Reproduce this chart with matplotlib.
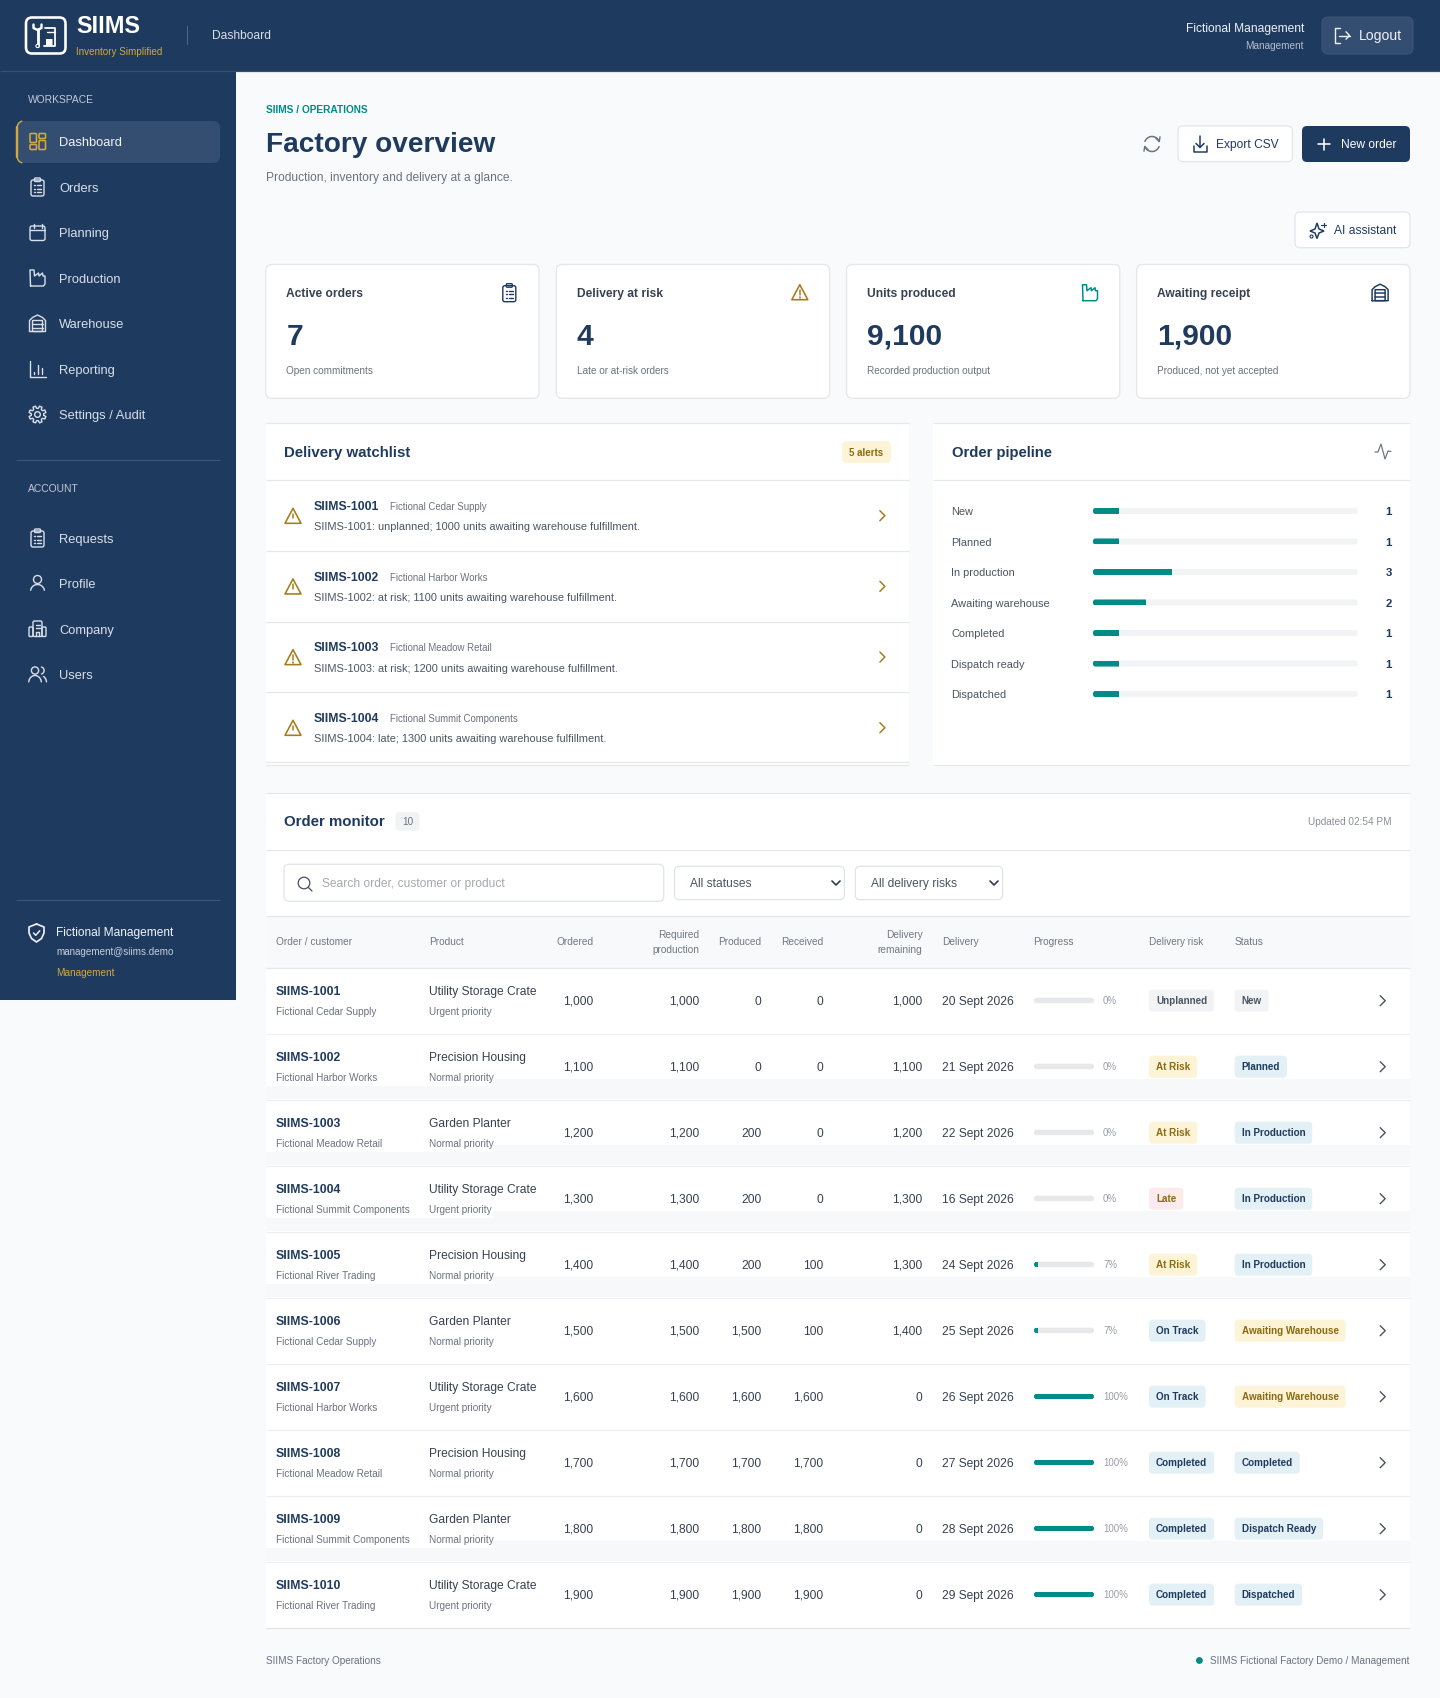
import math

import matplotlib
matplotlib.use('Agg')
import matplotlib.pyplot as plt
from matplotlib.patches import Circle, FancyBboxPatch, Polygon

W, H = 1440, 1698

NAVY = '#1f3a5f'
TEAL = '#008b87'
GOLD = '#d2a93c'
AMBER = '#a67c1a'
GREY = '#6b7280'
LINE = '#e5e7eb'
BG = '#f8fafc'

WORKSPACE_NAV = ['Dashboard', 'Orders', 'Planning', 'Production', 'Warehouse', 'Reporting', 'Settings / Audit']
ACCOUNT_NAV = ['Requests', 'Profile', 'Company', 'Users']

CARD_TITLES = ['Active orders', 'Delivery at risk', 'Units produced', 'Awaiting receipt']
CARD_VALUES = ['7', '4', '9,100', '1,900']
CARD_NOTES = ['Open commitments', 'Late or at-risk orders', 'Recorded production output', 'Produced, not yet accepted']

WATCH_IDS = ['SIIMS-1001', 'SIIMS-1002', 'SIIMS-1003', 'SIIMS-1004']
WATCH_CUSTOMERS = ['Fictional Cedar Supply', 'Fictional Harbor Works', 'Fictional Meadow Retail', 'Fictional Summit Components']
WATCH_MESSAGES = [
    'SIIMS-1001: unplanned; 1000 units awaiting warehouse fulfillment.',
    'SIIMS-1002: at risk; 1100 units awaiting warehouse fulfillment.',
    'SIIMS-1003: at risk; 1200 units awaiting warehouse fulfillment.',
    'SIIMS-1004: late; 1300 units awaiting warehouse fulfillment.',
]

PIPELINE_STAGES = ['New', 'Planned', 'In production', 'Awaiting warehouse', 'Completed', 'Dispatch ready', 'Dispatched']
PIPELINE_COUNTS = [1, 1, 3, 2, 1, 1, 1]
ORDER_TOTAL = 10

ORDER_IDS = ['SIIMS-1001', 'SIIMS-1002', 'SIIMS-1003', 'SIIMS-1004', 'SIIMS-1005',
             'SIIMS-1006', 'SIIMS-1007', 'SIIMS-1008', 'SIIMS-1009', 'SIIMS-1010']
CUSTOMERS = ['Fictional Cedar Supply', 'Fictional Harbor Works', 'Fictional Meadow Retail',
             'Fictional Summit Components', 'Fictional River Trading', 'Fictional Cedar Supply',
             'Fictional Harbor Works', 'Fictional Meadow Retail', 'Fictional Summit Components',
             'Fictional River Trading']
PRODUCTS = ['Utility Storage Crate', 'Precision Housing', 'Garden Planter', 'Utility Storage Crate',
            'Precision Housing', 'Garden Planter', 'Utility Storage Crate', 'Precision Housing',
            'Garden Planter', 'Utility Storage Crate']
PRIORITIES = ['Urgent priority', 'Normal priority', 'Normal priority', 'Urgent priority', 'Normal priority',
              'Normal priority', 'Urgent priority', 'Normal priority', 'Normal priority', 'Urgent priority']
ORDERED = [1000, 1100, 1200, 1300, 1400, 1500, 1600, 1700, 1800, 1900]
REQUIRED = [1000, 1100, 1200, 1300, 1400, 1500, 1600, 1700, 1800, 1900]
PRODUCED = [0, 0, 200, 200, 200, 1500, 1600, 1700, 1800, 1900]
RECEIVED = [0, 0, 0, 0, 100, 100, 1600, 1700, 1800, 1900]
REMAINING = [1000, 1100, 1200, 1300, 1300, 1400, 0, 0, 0, 0]
DELIVERY = ['20 Sept 2026', '21 Sept 2026', '22 Sept 2026', '16 Sept 2026', '24 Sept 2026',
            '25 Sept 2026', '26 Sept 2026', '27 Sept 2026', '28 Sept 2026', '29 Sept 2026']
PROGRESS = [0, 0, 0, 0, 7, 7, 100, 100, 100, 100]
RISKS = ['Unplanned', 'At Risk', 'At Risk', 'Late', 'At Risk', 'On Track', 'On Track',
         'Completed', 'Completed', 'Completed']
STATUSES = ['New', 'Planned', 'In Production', 'In Production', 'In Production', 'Awaiting Warehouse',
            'Awaiting Warehouse', 'Completed', 'Dispatch Ready', 'Dispatched']

BADGE_GREY = ('#f1f3f5', '#4b5563')
BADGE_GOLD = ('#fdf3d6', '#8a6a12')
BADGE_BLUE = ('#e3f1f6', NAVY)
BADGE_RED = ('#fdeaec', '#8a6a12')
BADGE_STYLE = {
    'Unplanned': BADGE_GREY, 'New': BADGE_GREY,
    'At Risk': BADGE_GOLD, 'Awaiting Warehouse': BADGE_GOLD,
    'Late': BADGE_RED,
}

plt.rcParams['font.family'] = ['Liberation Sans', 'DejaVu Sans']

fig = plt.figure(figsize=(W / 100, H / 100), dpi=100, facecolor=BG)
ax = fig.add_axes([0, 0, 1, 1])
ax.set_xlim(0, W)
ax.set_ylim(H, 0)
ax.axis('off')


def txt(x, y, s, px, color='#374151', weight='normal', ha='left'):
    return ax.text(x, y, s, fontsize=px * 0.72, color=color, fontweight=weight, ha=ha, va='baseline', zorder=6)


def ctxt(x, cy, s, px, color='#374151', weight='normal', ha='left'):
    # cy is the optical middle of the line
    return txt(x, cy + 0.36 * px, s, px, color, weight, ha)


def box(x0, y0, x1, y1, r=0, fc='white', ec='none', lw=1, z=2):
    p = FancyBboxPatch((x0 + r, y0 + r), x1 - x0 - 2 * r, y1 - y0 - 2 * r,
                       boxstyle='round,pad=%f,rounding_size=%f' % (r, r),
                       fc=fc, ec=ec, lw=lw * 0.72, zorder=z)
    ax.add_patch(p)
    return p


def rect(x0, y0, x1, y1, fc, z=1):
    ax.fill([x0, x1, x1, x0], [y0, y0, y1, y1], color=fc, lw=0, zorder=z)


def hline(y, x0, x1, color=LINE, lw=1.2, z=3):
    ax.plot([x0, x1], [y, y], color=color, lw=lw * 0.72, zorder=z, solid_capstyle='butt')


def stroke(pts, color, lw=1.4, z=5):
    ax.plot([p[0] for p in pts], [p[1] for p in pts], color=color, lw=lw * 0.72, zorder=z,
            solid_capstyle='round', solid_joinstyle='round')


def ring(cx, cy, r, color, lw=1.4, fc='none', z=5):
    ax.add_patch(Circle((cx, cy), r, fc=fc, ec=color, lw=lw * 0.72, zorder=z))


def arc(cx, cy, rx, ry, a0, a1):
    return [(cx + rx * math.cos(math.radians(a0 + (a1 - a0) * i / 24)),
             cy - ry * math.sin(math.radians(a0 + (a1 - a0) * i / 24))) for i in range(25)]


def icon_dash(cx, cy, c):
    for x0, y0, x1, y1 in [(-7.5, -8, -1, 1), (1.5, -8, 8, -3), (-7.5, 3, -1, 8), (1.5, -1, 8, 8)]:
        box(cx + x0, cy + y0, cx + x1, cy + y1, 1, 'none', c, 1.6, 5)


def icon_clipboard(cx, cy, c, lw=1.4):
    box(cx - 6.5, cy - 7, cx + 6.5, cy + 9, 2, 'none', c, lw, 5)
    box(cx - 3, cy - 9, cx + 3, cy - 5.5, 1, 'none', c, lw, 5)
    for dy in (-2, 1.5, 5):
        stroke([(cx - 3.5, cy + dy), (cx - 2.5, cy + dy)], c, lw)
        stroke([(cx - 0.5, cy + dy), (cx + 3.5, cy + dy)], c, lw)


def icon_calendar(cx, cy, c):
    box(cx - 7.5, cy - 6.5, cx + 7.5, cy + 8, 2, 'none', c, 1.4, 5)
    stroke([(cx - 7.5, cy - 2.5), (cx + 7.5, cy - 2.5)], c)
    for dx in (-4, 4):
        stroke([(cx + dx, cy - 9), (cx + dx, cy - 5)], c)
    for dx in (-3, 0, 3):
        for dy in (1, 4):
            stroke([(cx + dx, cy + dy), (cx + dx + 0.4, cy + dy)], c, 1.2)


def icon_factory(cx, cy, c, lw=1.4):
    stroke([(cx - 7, cy + 8), (cx - 7.5, cy - 8), (cx - 3.5, cy - 8), (cx - 3, cy - 2), (cx + 1, cy - 5),
            (cx + 1.5, cy - 2), (cx + 5, cy - 5), (cx + 5.5, cy - 2), (cx + 7.5, cy - 2), (cx + 7.5, cy + 6),
            (cx + 6, cy + 8), (cx - 7, cy + 8)], c, lw)
    for dx in (-2.5, 0.5, 3.5):
        stroke([(cx + dx, cy + 4.5), (cx + dx + 0.4, cy + 4.5)], c, lw)


def icon_warehouse(cx, cy, c, lw=1.4):
    stroke([(cx - 8, cy + 8), (cx - 8, cy - 3), (cx - 5, cy - 6), (cx, cy - 8.5), (cx + 5, cy - 6),
            (cx + 8, cy - 3), (cx + 8, cy + 8), (cx - 8, cy + 8)], c, lw)
    box(cx - 5, cy - 3, cx + 5, cy + 8, 0.5, 'none', c, lw, 5)
    for dy in (0.5, 4):
        stroke([(cx - 5, cy + dy), (cx + 5, cy + dy)], c, lw)


def icon_chart(cx, cy, c):
    stroke([(cx - 7.5, cy - 8.5), (cx - 7.5, cy + 8), (cx + 8, cy + 8)], c)
    for dx, top in [(-3.5, 3), (0.5, -4), (4.5, -1)]:
        stroke([(cx + dx, cy + top), (cx + dx, cy + 5)], c)


def icon_gear(cx, cy, c):
    pts = []
    for i in range(8):
        a = math.radians(i * 45 + 22.5)
        for da, rr in [(-15, 6.2), (-9, 8.6), (9, 8.6), (15, 6.2)]:
            pts.append((cx + rr * math.cos(a + math.radians(da)), cy + rr * math.sin(a + math.radians(da))))
    stroke(pts + pts[:1], c)
    ring(cx, cy, 2.8, c)


def icon_person(cx, cy, c):
    ring(cx, cy - 4, 4, c)
    stroke(arc(cx, cy + 8, 7, 7, 170, 10), c)


def icon_building(cx, cy, c):
    box(cx - 4.5, cy - 8, cx + 4.5, cy + 7.5, 1.5, 'none', c, 1.4, 5)
    box(cx - 8.5, cy - 2, cx - 4.5, cy + 7.5, 1, 'none', c, 1.4, 5)
    box(cx + 4.5, cy - 2, cx + 8.5, cy + 7.5, 1, 'none', c, 1.4, 5)
    for dy in (-4.5, -1.5):
        stroke([(cx - 2, cy + dy), (cx + 2, cy + dy)], c)
    stroke([(cx - 1.5, cy + 7), (cx - 1.5, cy + 3), (cx + 1.5, cy + 3), (cx + 1.5, cy + 7)], c)


def icon_users(cx, cy, c):
    ring(cx - 2.5, cy - 4, 3.6, c)
    stroke(arc(cx - 2.5, cy + 8, 6.3, 7, 175, 5), c)
    stroke(arc(cx + 3, cy - 4, 3.6, 3.6, 75, -75), c)
    stroke(arc(cx + 3, cy + 8, 6, 7, 60, 5), c)


def icon_shield(cx, cy, c):
    stroke([(cx, cy - 9), (cx + 7.5, cy - 6), (cx + 7.5, cy), (cx + 5, cy + 5.5), (cx, cy + 9),
            (cx - 5, cy + 5.5), (cx - 7.5, cy), (cx - 7.5, cy - 6), (cx, cy - 9)], c, 1.7)
    stroke([(cx - 3, cy), (cx - 0.8, cy + 2.3), (cx + 3.2, cy - 2.2)], c, 1.5)


def icon_warning(cx, cy, c):
    ax.add_patch(Polygon([(cx, cy - 8), (cx + 8, cy + 7), (cx - 8, cy + 7)], closed=True, fc='none', ec=c,
                         lw=1.6 * 0.72, joinstyle='round', zorder=5))
    stroke([(cx, cy - 2.5), (cx, cy + 2)], c, 1.5)
    stroke([(cx, cy + 4.6), (cx, cy + 4.9)], c, 1.6)


def chevron(cx, cy, c, lw=1.4, s=5):
    stroke([(cx - s / 2, cy - s), (cx + s / 2, cy), (cx - s / 2, cy + s)], c, lw)


def draw_logo():
    box(26, 17.5, 65.5, 53.5, 6, 'none', 'white', 2.6, 5)
    # wrench on the left, shelf with crate on the right
    stroke([(37.5, 29), (37.5, 46)], 'white', 2.8)
    stroke([(33.5, 24.5), (33.5, 28), (37.5, 30), (41.5, 28), (41.5, 24.5)], 'white', 2.4)
    stroke([(45, 27.5), (54.5, 27.5), (54.5, 45.5), (44, 45.5)], 'white', 1.8)
    stroke([(47, 32), (54.5, 32)], 'white', 1.4)
    box(46, 39, 52.5, 45.5, 0.5, 'white', 'none', 1, 5)
    ring(37.5, 46, 1.6, 'white', 1.1, fc=NAVY, z=6)


def draw_shell():
    rect(0, 0, W, 71, NAVY)
    hline(71, 0, W, '#35507a', 1.2)
    rect(0, 71, 236, 1000, NAVY)

    draw_logo()
    txt(76, 33.3, 'SIIMS', 23.5, 'white', 'bold')
    txt(76, 55, 'Inventory Simplified', 9.9, GOLD)
    stroke([(187.3, 26), (187.3, 44)], '#4f6787', 1)
    ctxt(212, 34.5, 'Dashboard', 12, '#d8dfe9')

    txt(1304, 32, 'Fictional Management', 12.05, '#eef1f5', ha='right')
    txt(1304, 48.5, 'Management', 10, '#b4bfce', ha='right')
    box(1322, 17, 1413, 54, 6, '#344e72', '#3d5678', 1)
    c = '#eef1f5'
    stroke([(1340, 28), (1335, 28), (1335, 43), (1340, 43)], c, 1.4)
    stroke([(1339, 35.5), (1349.5, 35.5)], c, 1.4)
    stroke([(1346, 31.8), (1349.5, 35.5), (1346, 39.2)], c, 1.4)
    ctxt(1359, 35.2, 'Logout', 14, c)

    txt(27.5, 103, 'WORKSPACE', 10.2, '#c0c9d6')
    box(16.5, 121, 220, 163, 7, '#344e72')
    stroke([(17.2, 127), (17.2, 157)], GOLD, 2.4)
    stroke(arc(23.5, 127.5, 6.3, 6.5, 175, 105), GOLD, 1.4)
    stroke(arc(23.5, 156.5, 6.3, 6.5, 185, 255), GOLD, 1.4)

    nav_icons = [icon_dash, icon_clipboard, icon_calendar, icon_factory, icon_warehouse, icon_chart, icon_gear]
    for i, name in enumerate(WORKSPACE_NAV):
        cy = 141.5 + 45.5 * i
        c = GOLD if i == 0 else '#d8dfe9'
        nav_icons[i](37.5, cy, c)
        ctxt(59, cy, name, 12.95, '#f1f4f8' if i == 0 else '#d8dfe9')

    hline(460, 16, 220, '#3c5578', 1.1)
    txt(27.5, 492, 'ACCOUNT', 10.2, '#c0c9d6')
    acct_icons = [icon_clipboard, icon_person, icon_building, icon_users]
    for i, name in enumerate(ACCOUNT_NAV):
        cy = 538 + 45.5 * i
        acct_icons[i](37.5, cy, '#d8dfe9')
        ctxt(59, cy, name, 12.95, '#d8dfe9')

    hline(900, 16, 220, '#3c5578', 1.1)
    icon_shield(36.5, 933, '#eef1f5')
    ctxt(56, 931.7, 'Fictional Management', 11.95, '#f1f4f8')
    ctxt(56, 951.5, 'management@siims.demo', 9.9, '#c6cfdb')
    ctxt(56, 972.8, 'Management', 10, GOLD)


def draw_page_head():
    txt(266, 113.3, 'SIIMS / OPERATIONS', 10.1, TEAL, 'bold')
    txt(266, 152, 'Factory overview', 28, NAVY, 'bold')
    txt(266, 180.7, 'Production, inventory and delivery at a glance.', 12, GREY)

    c = GREY
    stroke(arc(1152, 144, 7.5, 7.5, 160, 20), c, 1.5)
    stroke(arc(1152, 144, 7.5, 7.5, -20, -160), c, 1.5)
    stroke([(1155.5, 137.8), (1159.3, 141.6), (1160, 136.8)], c, 1.4)
    stroke([(1148.5, 150.2), (1144.7, 146.4), (1144, 151.2)], c, 1.4)

    box(1178, 126, 1292.5, 161.7, 5, 'white', '#e1e5ea', 1.2)
    stroke([(1200, 136), (1200, 147)], NAVY, 1.5)
    stroke([(1196, 143.5), (1200, 147.5), (1204, 143.5)], NAVY, 1.5)
    stroke([(1193.5, 146), (1193.5, 151.5), (1206.5, 151.5), (1206.5, 146)], NAVY, 1.5)
    ctxt(1216, 143.6, 'Export CSV', 12, NAVY)

    box(1302, 126, 1410, 162, 5, NAVY)
    stroke([(1324, 138.5), (1324, 150)], 'white', 1.6)
    stroke([(1318.3, 144.2), (1329.7, 144.2)], 'white', 1.6)
    ctxt(1340.7, 143.6, 'New order', 12, 'white')

    box(1295, 212, 1410, 247.7, 5, 'white', '#e1e5ea', 1.2)
    ax.add_patch(Polygon([(1317, 223), (1319, 229), (1324, 231), (1319, 233), (1317, 238.5), (1315, 233),
                          (1310, 231), (1315, 229)], closed=True, fc='none', ec=NAVY, lw=1.08, zorder=5))
    stroke([(1323.5, 222.5), (1323.5, 227)], NAVY, 1.2)
    stroke([(1321.2, 224.7), (1325.8, 224.7)], NAVY, 1.2)
    ring(1311.5, 236.5, 1.5, NAVY, 1.1)
    ctxt(1334, 229.6, 'AI assistant', 12, NAVY)


def draw_cards():
    lefts = [265.8, 556.3, 846.5, 1136.6]
    icons = [lambda x, y: icon_clipboard(x, y, NAVY, 1.4), lambda x, y: icon_warning(x, y, AMBER),
             lambda x, y: icon_factory(x, y, TEAL, 1.5), lambda x, y: icon_warehouse(x, y, NAVY, 1.5)]
    for i, left in enumerate(lefts):
        box(left, 264.5, left + 273.3, 398.3, 6, 'white', '#e4e7eb', 1.3)
        txt(left + 20.6, 297.2, CARD_TITLES[i], 12, '#374151', 'bold')
        txt(left + 20.6, 344.6, CARD_VALUES[i], 30, NAVY, 'bold')
        txt(left + 20.6, 374.3, CARD_NOTES[i], 10.05, GREY)
        icons[i](left + 243.5, 292.7)


def draw_watchlist():
    rect(266, 423.3, 908.7, 765.3, 'white')
    hline(423.3, 266, 908.7)
    hline(480.3, 266, 908.7)
    hline(762.3, 266, 908.7)
    hline(765.3, 266, 908.7)
    txt(284, 456.7, 'Delivery watchlist', 15, NAVY, 'bold')
    box(842, 441, 891, 463, 5, '#fdf3d6')
    ctxt(866.4, 452, '5 alerts', 9.8, '#8a6a12', 'bold', 'center')
    for i in range(len(WATCH_IDS)):
        top = 480.3 + 70.67 * i
        if i:
            hline(top, 266, 908.7)
        txt(314, top + 29.8, WATCH_IDS[i], 12.2, NAVY, 'bold')
        txt(389.5, top + 29.6, WATCH_CUSTOMERS[i], 9.6, GREY)
        txt(314, top + 50, WATCH_MESSAGES[i], 10.95, '#4b5563')
        icon_warning(293, top + 36, AMBER)
        chevron(882.4, top + 35.4, AMBER, 1.5)


def draw_pipeline():
    rect(933, 423.3, 1410, 765.3, 'white')
    hline(423.3, 933, 1410)
    hline(480.3, 933, 1410)
    hline(765.3, 933, 1410)
    txt(951.7, 456.7, 'Order pipeline', 14.9, NAVY, 'bold')
    stroke([(1375, 452), (1378, 452), (1381, 444), (1385, 459), (1388, 451), (1391, 451.5)], GREY, 1.2)

    # one axes for the bars so that their length comes from the counts
    x0, x1 = 1093, 1357.7
    y0, y1 = 495.7, 709.3
    bars = fig.add_axes([x0 / W, 1 - y1 / H, (x1 - x0) / W, (y1 - y0) / H])
    bars.set_xlim(0, ORDER_TOTAL)
    bars.set_ylim(len(PIPELINE_STAGES) - 0.5, -0.5)
    bars.axis('off')
    step = (y1 - y0) / len(PIPELINE_STAGES)
    drawn = bars.barh(range(len(PIPELINE_COUNTS)), PIPELINE_COUNTS, height=6 / step, color=TEAL, lw=0)
    for i, stage in enumerate(PIPELINE_STAGES):
        cy = y0 + step * (i + 0.5)
        ctxt(951.3, cy + 0.4, stage, 11, '#4b5563')
        track = box(x0, cy - 3, x1, cy + 3, 2.5, '#f1f3f5', z=2)
        drawn[i].set_clip_path(track)
        ctxt(1391.7, cy, str(PIPELINE_COUNTS[i]), 11.5, NAVY, 'bold', 'right')


def draw_badge(x, cy, label, renderer):
    fc, tc = BADGE_STYLE.get(label, BADGE_BLUE)
    t = ctxt(x + 7, cy, label, 9.9, tc, 'bold')
    w = t.get_window_extent(renderer).width
    box(x, cy - 11, x + w + 14, cy + 11, 4, fc, z=4)


def draw_orders():
    renderer = fig.canvas.get_renderer()
    rect(266, 792.7, 1410, 1627.7, 'white')
    hline(792.7, 266, 1410)
    txt(284, 826, 'Order monitor', 15, NAVY, 'bold')
    box(395.5, 812, 419.6, 830.7, 4, '#f1f3f5')
    ctxt(407.5, 821.5, '10', 10, GREY, ha='center')
    ctxt(1392, 821.7, 'Updated 02:54 PM', 9.95, '#8a9099', ha='right')
    hline(849.7, 266, 1410)

    box(284, 864.3, 663.7, 901.3, 5, 'white', '#dfe3e8', 1.2)
    ring(304, 883, 5.8, '#4b5563', 1.3)
    stroke([(308.3, 887.4), (312, 891)], '#4b5563', 1.3)
    ctxt(322.4, 882.8, 'Search order, customer or product', 12, '#a4a9b1')

    box(674.5, 866.3, 844.4, 899.7, 5, 'white', '#dfe3e8', 1.2)
    ctxt(690, 882.8, 'All statuses', 12, '#4b5563')
    stroke([(832, 881), (836, 885), (840, 881)], '#374151', 1.7)
    box(855.3, 866.3, 1002.6, 899.7, 5, 'white', '#dfe3e8', 1.2)
    ctxt(871, 882.8, 'All delivery risks', 12, '#4b5563')
    stroke([(990, 881), (994, 885), (998, 881)], '#374151', 1.7)

    rect(266, 916.3, 1410, 967.7, '#f8f9fb', 2)
    hline(916.3, 266, 1410)
    hline(967.7, 266, 1410, '#e5e7eb', 1.3)
    head = '#727882'
    ctxt(276, 941.7, 'Order / customer', 10.1, head)
    ctxt(429, 941.7, 'Product', 10.1, head)
    ctxt(593.6, 941.7, 'Ordered', 10.1, head, ha='right')
    ctxt(699, 934.7, 'Required', 10.1, head, ha='right')
    ctxt(699, 949, 'production', 10.1, head, ha='right')
    ctxt(761.6, 941.7, 'Produced', 10.1, head, ha='right')
    ctxt(823.3, 941.7, 'Received', 10.1, head, ha='right')
    ctxt(922.5, 934.7, 'Delivery', 10.1, head, ha='right')
    ctxt(922.5, 949, 'remaining', 10.1, head, ha='right')
    ctxt(942.3, 941.7, 'Delivery', 10.1, head)
    ctxt(1033.6, 941.7, 'Progress', 10.1, head)
    ctxt(1148.6, 941.7, 'Delivery risk', 10, head)
    ctxt(1234.2, 941.7, 'Status', 10.1, head)

    row_h = 66
    top0 = 967.7

    # progress bars share one axes, scaled 0-100
    bx0, bx1 = 1034, 1094
    prog = fig.add_axes([bx0 / W, 1 - (top0 + row_h * 10) / H, (bx1 - bx0) / W, row_h * 10 / H])
    prog.set_xlim(0, 100)
    prog.set_ylim(9.5, -0.5)
    prog.axis('off')
    drawn = prog.barh(range(len(PROGRESS)), PROGRESS, height=5.5 / row_h, color=TEAL, lw=0)

    for i in range(len(ORDER_IDS)):
        top = top0 + row_h * i
        cy = top + 33
        num_cy = cy - 0.4
        if i:
            hline(top, 266, 1410, '#eceef1', 1.2)
        if i in (1, 2, 3, 4, 8):
            # repaint leftovers in the screenshot: a pale strip at the foot of the row
            rect(266, top + 52, 493, top + row_h - 0.6, '#f7f8fa', 2)
            rect(493, top + 45.5, 1410, top + row_h - 0.6, '#f7f8fa', 2)
        txt(276, top + 27.3, ORDER_IDS[i], 12.2, NAVY, 'bold')
        txt(276, top + 47.6, CUSTOMERS[i], 9.95, GREY)
        txt(429, top + 27.3, PRODUCTS[i], 12, '#374151')
        txt(429, top + 47.6, PRIORITIES[i], 10, GREY)
        ctxt(593.3, num_cy, format(ORDERED[i], ','), 12, ha='right')
        ctxt(699, num_cy, format(REQUIRED[i], ','), 12, ha='right')
        ctxt(761.3, num_cy, format(PRODUCED[i], ','), 12, ha='right')
        ctxt(823.3, num_cy, format(RECEIVED[i], ','), 12, ha='right')
        ctxt(922.3, num_cy, format(REMAINING[i], ','), 12, ha='right')
        ctxt(942.3, num_cy, DELIVERY[i], 12, '#374151')
        track = box(bx0, cy - 3, bx1, cy + 2.5, 2.7, '#e6e8ea', z=3)
        drawn[i].set_clip_path(track)
        ctxt(1103, num_cy, '%d%%' % PROGRESS[i], 9.8, '#9aa0a8')
        draw_badge(1149, cy, RISKS[i], renderer)
        draw_badge(1234.6, cy, STATUSES[i], renderer)
        chevron(1382.7, cy, '#4b5563', 1.4)

    hline(1627.7, 266, 1410, '#e1e4e8', 1.3)

    ctxt(266, 1660.5, 'SIIMS Factory Operations', 10, GREY)
    ctxt(1410, 1660.5, 'SIIMS Fictional Factory Demo / Management', 9.95, GREY, ha='right')
    ring(1199.4, 1660.5, 3.4, TEAL, 0, fc=TEAL)


draw_shell()
draw_page_head()
draw_cards()
draw_watchlist()
draw_pipeline()
draw_orders()

fig.savefig('out.png', dpi=100, facecolor=BG)
